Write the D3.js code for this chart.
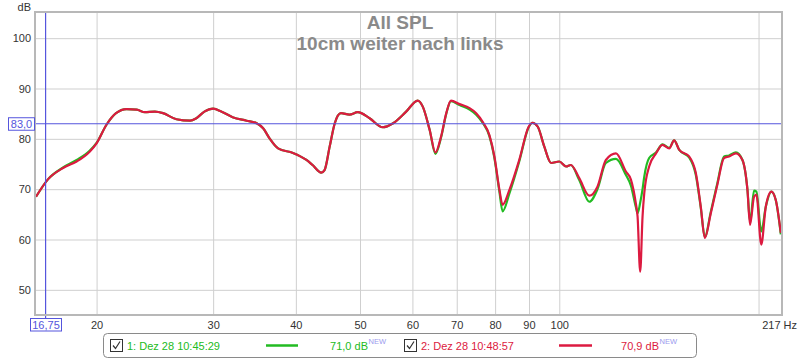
<!DOCTYPE html>
<html><head><meta charset="utf-8">
<script src="https://cdn.jsdelivr.net/npm/d3@7"></script>
<style>
html,body{margin:0;padding:0;background:#fff;}
svg{display:block;font-family:"Liberation Sans",Arial,sans-serif;}
</style></head>
<body>
<svg id="c" width="800" height="360"></svg>
<script>
const titleLines = ["All SPL", "10cm weiter nach links"];
const freqs = [16.2,16.9,17.8,18.66,19.54,20.0,20.7,21.4,22.2,23.0,23.65,24.5,25.2,26.4,27.7,28.3,29.1,30.0,30.9,32.1,33.7,34.9,35.7,36.5,37.6,39.6,41.5,42.4,43.7,44.2,45.0,45.8,46.8,48.2,49.6,51.7,54.1,56.1,58.7,61.1,62.2,63.7,65.0,66.3,67.5,68.6,70.7,73.2,74.9,76.6,78.4,79.8,81.2,82.1,84.1,87.0,89.9,91.1,92.8,94.9,97.2,100.0,102.4,104.1,107.2,111.0,114.2,117.6,121.8,126.1,128.3,130.5,131.3,132.5,133.6,134.4,136.7,140.0,143.2,146.6,149.1,151.8,157.1,160.8,163.6,165.9,169.4,173.3,177.4,180.5,184.8,189.1,192.4,194.2,196.9,198.5,201.9,205.1,209.1,212.3,216.1];
const spl1 = [68.5,72.0,74.3,75.8,77.7,79.2,82.8,85.1,85.9,85.8,85.3,85.4,85.1,83.9,83.6,84.1,85.4,86.0,85.4,84.3,83.6,83.1,82.1,80.1,78.1,77.2,75.8,74.8,73.3,73.8,78.5,83.1,85.1,84.8,85.3,84.1,82.3,83.1,85.4,87.6,86.4,81.8,77.0,80.3,85.0,87.5,86.7,85.8,84.8,83.2,80.6,76.2,69.5,65.6,69.2,75.5,82.3,83.2,82.4,78.5,75.2,75.5,74.5,74.8,71.8,67.5,70.0,75.2,76.0,72.8,70.7,66.5,65.2,67.3,70.0,72.5,76.2,77.3,78.9,78.2,79.7,77.8,76.3,72.8,66.3,60.5,65.5,71.2,76.5,76.7,77.3,75.8,70.0,63.5,69.7,69.5,61.6,66.5,69.5,67.9,61.0];
const spl2 = [68.5,72.0,74.2,75.5,77.5,79.1,82.8,85.1,85.9,85.8,85.3,85.4,85.1,83.9,83.6,84.1,85.4,86.0,85.4,84.3,83.6,83.1,82.1,80.1,78.1,77.2,75.8,74.8,73.3,73.8,78.5,83.1,85.1,84.8,85.3,84.1,82.3,83.1,85.4,87.6,86.4,81.8,77.3,80.5,85.1,87.6,86.9,86.1,85.1,83.4,80.8,76.5,69.9,66.9,69.9,75.8,82.4,83.2,82.4,78.5,75.2,75.5,74.5,74.8,72.2,68.7,70.5,75.8,77.1,73.5,71.9,67.2,64.6,53.6,64.6,69.2,74.5,77.1,78.8,78.1,79.7,77.8,76.5,73.2,66.5,60.3,65.2,70.9,76.2,76.5,77.1,75.8,69.9,62.9,68.5,68.9,59.0,66.5,69.5,67.9,61.3];
const yTicks = [50,60,70,80,90,100];
const xGridTicks = [20,30,40,50,60,70,80,90,100,200];
const xLabelTicks = [20,30,40,50,60,70,80,90,100];
const xEndLabel = "217 Hz";
const yUnit = "dB";
const cursorFreq = 16.75, cursorFreqLabel = "16,75";
const cursorLevel = 83.0, cursorLevelLabel = "83,0";
const seriesNames = ["1: Dez 28 10:45:29", "2: Dez 28 10:48:57"];
const seriesLevels = ["71,0 dB", "70,9 dB"];
const seriesColors = ["#22bb22", "#dc1a40"];

const svg = d3.select("#c");
const L = 36, R = 782, T = 12, B = 314;
const x = d3.scaleLog().domain([16.2, 217]).range([L, R]);
const y = d3.scaleLinear().domain([45.2, 105.2]).range([B, T]);

// grid
svg.append("g").attr("transform", `translate(0,${B})`)
  .call(d3.axisBottom(x).tickValues(xGridTicks).tickSize(-(B - T)).tickFormat(""))
  .call(g => g.select(".domain").remove())
  .call(g => g.selectAll("line").attr("stroke", "#cfcfcf"));
svg.append("g").attr("transform", `translate(${L},0)`)
  .call(d3.axisLeft(y).tickValues(yTicks).tickSize(-(R - L)).tickFormat(""))
  .call(g => g.select(".domain").remove())
  .call(g => g.selectAll("line").attr("stroke", "#cfcfcf"));

// axis labels
svg.append("g").attr("transform", `translate(0,${B + 5})`)
  .call(d3.axisBottom(x).tickValues(xLabelTicks).tickSize(0).tickPadding(2).tickFormat(d3.format("d")))
  .call(g => g.select(".domain").remove())
  .call(g => g.selectAll("text").attr("fill", "#333").attr("font-size", 11).attr("font-family", "Liberation Sans, Arial, sans-serif"));
svg.append("g").attr("transform", `translate(${L - 4},0)`)
  .call(d3.axisLeft(y).tickValues(yTicks).tickSize(0).tickPadding(1).tickFormat(d3.format("d")))
  .call(g => g.select(".domain").remove())
  .call(g => g.selectAll("text").attr("fill", "#333").attr("font-size", 11).attr("font-family", "Liberation Sans, Arial, sans-serif"));
svg.append("text").attr("x", 797).attr("y", B + 15).attr("text-anchor", "end")
  .attr("font-size", 11).attr("fill", "#333").text(xEndLabel);
svg.append("text").attr("x", 31).attr("y", 11).attr("text-anchor", "end")
  .attr("font-size", 11).attr("fill", "#333").text(yUnit);

// title
svg.append("text").attr("x", 400).attr("y", 29).attr("text-anchor", "middle")
  .attr("font-size", 19).attr("font-weight", "bold").attr("fill", "#8a8a8a").text(titleLines[0]);
svg.append("text").attr("x", 400).attr("y", 50).attr("text-anchor", "middle")
  .attr("font-size", 19).attr("font-weight", "bold").attr("fill", "#8a8a8a").text(titleLines[1]);

// curves
const line = d3.line().curve(d3.curveMonotoneX).x((d, i) => x(freqs[i])).y(d => y(d));
const clip = svg.append("clipPath").attr("id", "clp").append("rect")
  .attr("x", L).attr("y", T).attr("width", R - L).attr("height", B - T);
[spl1, spl2].forEach((s, k) => {
  svg.append("path").datum(s).attr("d", line).attr("fill", "none")
    .attr("stroke", seriesColors[k]).attr("stroke-width", 2.2)
    .attr("stroke-linejoin", "round").attr("clip-path", "url(#clp)");
});

// cursor lines
const blue = "#5555dd";
svg.append("line").attr("x1", x(cursorFreq)).attr("x2", x(cursorFreq)).attr("y1", T).attr("y2", 318)
  .attr("stroke", blue).attr("stroke-width", 1.2);
svg.append("line").attr("x1", 35).attr("x2", R).attr("y1", y(cursorLevel)).attr("y2", y(cursorLevel))
  .attr("stroke", blue).attr("stroke-width", 1.2);

// frame
svg.append("rect").attr("x", L - 1).attr("y", T).attr("width", R - L + 1).attr("height", B - T + 1)
  .attr("fill", "none").attr("stroke", "#b8b8b8").attr("stroke-width", 2);

// cursor boxes
svg.append("rect").attr("x", 8.5).attr("y", y(cursorLevel) - 6).attr("width", 26).attr("height", 12.5)
  .attr("fill", "#fff").attr("stroke", blue);
svg.append("text").attr("x", 21.5).attr("y", y(cursorLevel) + 4).attr("text-anchor", "middle")
  .attr("font-size", 11).attr("fill", blue).text(cursorLevelLabel);
svg.append("rect").attr("x", 30.5).attr("y", 318.5).attr("width", 31).attr("height", 12.5)
  .attr("fill", "#fff").attr("stroke", blue);
svg.append("text").attr("x", 46).attr("y", 329).attr("text-anchor", "middle")
  .attr("font-size", 11).attr("fill", blue).text(cursorFreqLabel);

// legend
svg.append("rect").attr("x", 103.5).attr("y", 333.5).attr("width", 593).attr("height", 24).attr("rx", 4)
  .attr("fill", "#fff").attr("stroke", "#8a8a8a");
const legX = [[110, 127, 266, 298, 368], [404, 421, 559, 592, 659]];
legX.forEach((p, k) => {
  const c = seriesColors[k];
  svg.append("rect").attr("x", p[0] + 0.5).attr("y", 339.5).attr("width", 12).attr("height", 12)
    .attr("fill", "#fff").attr("stroke", "#333");
  svg.append("path").attr("d", `M${p[0] + 3},${345.5} L${p[0] + 5.5},${348.5} L${p[0] + 10},${341.5}`)
    .attr("fill", "none").attr("stroke", "#333").attr("stroke-width", 1.2);
  svg.append("text").attr("x", p[1]).attr("y", 350).attr("font-size", 11).attr("fill", c).text(seriesNames[k]);
  svg.append("line").attr("x1", p[2]).attr("x2", p[3]).attr("y1", 345.5).attr("y2", 345.5)
    .attr("stroke", c).attr("stroke-width", 2.5);
  svg.append("text").attr("x", p[4]).attr("y", 350).attr("text-anchor", "end")
    .attr("font-size", 11).attr("fill", c).text(seriesLevels[k]);
  svg.append("text").attr("x", p[4] + 0.5).attr("y", 344).attr("font-size", 7.5)
    .attr("fill", "#9a9aee").text("NEW");
});
</script>
</body></html>
